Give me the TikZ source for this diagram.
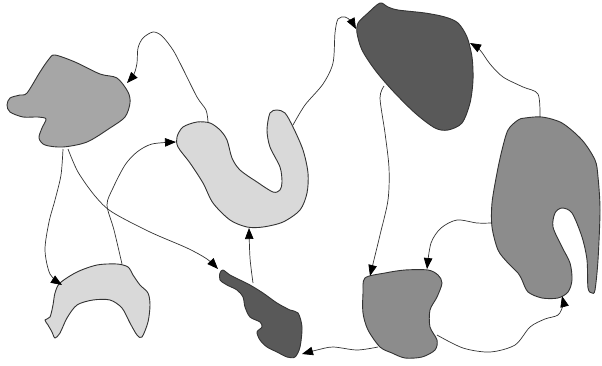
\documentclass[tikz,border=0pt]{standalone}
\usetikzlibrary{arrows.meta}
\definecolor{blobLight}{HTML}{D9D9D9}
\definecolor{blobMid}{HTML}{A6A6A6}
\definecolor{blobGrey}{HTML}{8C8C8C}
\definecolor{blobDark}{HTML}{595959}
\definecolor{edge}{HTML}{333333}
\tikzset{
  blob/.style={draw=edge, line width=0.9pt},
  conn/.style={draw=edge, line width=0.7pt,
    -{Triangle[length=11pt,width=8.5pt,color=black]}},
}
\begin{document}
\begin{tikzpicture}[x=1pt,y=-1pt]
\useasboundingbox (0,0) rectangle (602,365);

% blob A (upper left)
\draw[blob, fill=blobMid] plot[smooth cycle] coordinates {
  (55,55) (75,62) (100,74) (117,78) (128,92) (130,103) (125,117) (110,128)
  (87,142) (63,147) (45,145) (39,138) (42,128) (46,119) (38,117) (23,117)
  (10,112) (7,105) (10,98) (20,95) (27,93) (40,72) (49,59)};
% blob B (hook)
\draw[blob, fill=blobLight] plot[smooth cycle, tension=0.5] coordinates {
  (197,122) (210,123) (220,130) (227,140) (232,158) (240,170) (257,182)
  (273,192) (280,190) (282,182) (280,167) (270,147) (267,130) (270,113)
  (277,110) (285,113) (293,127) (303,150) (308,173) (307,193) (300,210)
  (283,222) (263,227) (247,227) (230,220) (213,203) (203,183) (190,163)
  (178,147) (177,137) (183,127)};
% blob C (top)
\draw[blob, fill=blobDark] plot[smooth cycle, tension=0.5] coordinates {
  (380,3) (388,7) (398,10) (425,13) (445,17) (458,23) (467,37) (472,57)
  (473,80) (470,103) (462,123) (448,130) (435,128) (415,113) (392,90)
  (375,70) (362,50) (357,33) (358,23) (368,13)};
% blob D (right)
\draw[blob, fill=blobGrey] plot[smooth cycle, tension=0.5] coordinates {
  (525,118) (542,117) (562,123) (582,140) (595,160) (598,177) (600,210)
  (598,260) (595,290) (592,293) (588,288) (587,260) (582,237) (572,213)
  (562,208) (555,213) (553,227) (562,247) (570,263) (572,280) (568,292)
  (558,298) (542,298) (528,292) (522,280) (518,273) (508,263) (498,250)
  (492,227) (492,203) (497,173) (502,150) (508,130) (518,120)};
% blob E (crescent)
\draw[blob, fill=blobLight] plot[smooth cycle, tension=0.5] coordinates {
  (60,283) (77,272) (97,265) (117,264) (128,267) (133,275) (140,285)
  (148,293) (150,305) (148,322) (142,337) (137,335) (130,323) (122,308)
  (110,300) (93,300) (77,305) (67,318) (60,333) (55,338) (52,332) (48,325)
  (45,320) (50,317) (53,305) (55,293)};
% blob F (wiggly)
\draw[blob, fill=blobDark] plot[smooth cycle, tension=0.5] coordinates {
  (220,273) (223,270) (230,275) (240,280) (250,285) (263,293) (277,303)
  (290,310) (298,313) (302,327) (300,347) (295,357) (287,357) (277,352)
  (267,347) (260,340) (257,332) (262,327) (260,322) (250,317) (245,307)
  (243,297) (237,290) (227,285) (220,280)};
% blob G (bottom middle)
\draw[blob, fill=blobGrey] plot[smooth cycle, tension=0.5] coordinates {
  (365,278) (385,273) (405,270) (428,270) (438,275) (442,283) (437,297)
  (430,310) (430,327) (437,340) (435,350) (422,357) (405,358) (392,353)
  (380,347) (368,330) (363,313) (363,293)};

% connector end points
\coordinate (bTop) at (208,122);
\coordinate (aIn) at (127,83);
\coordinate (aOutL) at (63,149);
\coordinate (aOutR) at (68,149);
\coordinate (eIn) at (62,285);
\coordinate (fIn) at (218,269);
\coordinate (eTop) at (122,264);
\coordinate (bIn) at (176,142);
\coordinate (fTop) at (253,283);
\coordinate (bBot) at (249,228);
\coordinate (bTopR) at (293,125);
\coordinate (cInL) at (356,29);
\coordinate (cOut) at (384,86);
\coordinate (gInL) at (370,276);
\coordinate (dLeft) at (491,223);
\coordinate (gInR) at (427,269);
\coordinate (dTop) at (540,117);
\coordinate (cInR) at (470,43);
\coordinate (gOutL) at (378,347);
\coordinate (fIn2) at (302,354);
\coordinate (gOutR) at (437,335);
\coordinate (dIn) at (562,296);

% connectors
\draw[conn] plot[smooth] coordinates {(bTop) (206,110) (197,97) (182,67)
  (173,50) (162,36) (153,32) (143,38) (138,48) (137,63) (134,74) (aIn)};
\draw[conn] plot[smooth] coordinates {(aOutL) (61,175) (55,200) (49,222)
  (45,250) (50,274) (eIn)};
\draw[conn] plot[smooth] coordinates {(aOutR) (78,172) (95,196) (112,212)
  (150,232) (187,248) (207,259) (fIn)};
\draw[conn] plot[smooth] coordinates {(eTop) (114,230) (107,205) (113,188)
  (125,165) (137,152) (152,144) (bIn)};
\draw[conn] plot[smooth] coordinates {(fTop) (250,258) (bBot)};
\draw[conn] plot[smooth] coordinates {(bTopR) (305,105) (323,84) (333,63)
  (335,33) (338,19) (345,17) (351,21) (cInL)};
\draw[conn] plot[smooth] coordinates {(cOut) (380,98) (385,133) (389,168)
  (388,200) (380,235) (gInL)};
\draw[conn] plot[smooth] coordinates {(dLeft) (477,223) (457,220) (441,228)
  (431,243) (gInR)};
\draw[conn] plot[smooth] coordinates {(dTop) (538,94) (523,87) (503,77)
  (490,64) (480,50) (cInR)};
\draw[conn] plot[smooth] coordinates {(gOutL) (357,350) (333,347) (317,350)
  (fIn2)};
\draw[conn] plot[smooth] coordinates {(gOutR) (463,348) (490,352) (515,345)
  (530,327) (545,319) (558,315) (563,305) (dIn)};
\end{tikzpicture}
\end{document}
